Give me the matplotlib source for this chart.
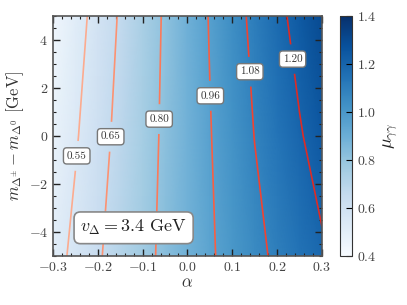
import numpy as np
import matplotlib
matplotlib.use('Agg')
import matplotlib.pyplot as plt
from matplotlib.ticker import MultipleLocator

plt.rcParams['font.family'] = 'serif'
plt.rcParams['font.serif'] = ['cmr10']
plt.rcParams['mathtext.fontset'] = 'cm'
plt.rcParams['axes.formatter.use_mathtext'] = True
plt.rcParams['axes.unicode_minus'] = True

# grid
alpha = [-0.30, -0.25, -0.20, -0.15, -0.10, -0.05, 0.00, 0.05, 0.10, 0.15, 0.20, 0.25, 0.30]
dm = [-5.0, 0.0, 5.0]
# mu_gamma_gamma along each dm row
mu_dm_m5 = [0.510, 0.574, 0.637, 0.701, 0.764, 0.826, 0.886, 0.946, 1.000, 1.052, 1.099, 1.142, 1.185]
mu_dm_0 = [0.471, 0.540, 0.610, 0.679, 0.750, 0.819, 0.887, 0.955, 1.019, 1.082, 1.137, 1.191, 1.246]
mu_dm_p5 = [0.436, 0.510, 0.585, 0.660, 0.736, 0.813, 0.890, 0.966, 1.037, 1.106, 1.171, 1.237, 1.302]
levels = [0.55, 0.65, 0.80, 0.96, 1.08, 1.20]

mu = np.array([mu_dm_m5, mu_dm_0, mu_dm_p5])
A, D = np.meshgrid(alpha, dm)

fig = plt.figure(figsize=(4.07, 3.05), dpi=100)
ax = fig.add_axes([0.130, 0.161, 0.661, 0.787])
cax = fig.add_axes([0.835, 0.161, 0.0295, 0.787])

pc = ax.pcolormesh(A, D, mu, cmap='Blues', vmin=0.4, vmax=1.4, shading='gouraud')

line_cols = plt.cm.Reds(np.linspace(0.3, 0.68, len(levels)))
cs = ax.contour(A, D, mu, levels=levels, colors=line_cols, linewidths=1.2)
lbl_pos = [(-0.249, -0.83), (-0.168, -0.04), (-0.066, 0.70),
           (0.052, 1.67), (0.137, 2.67), (0.235, 3.2)]
labels = ax.clabel(cs, levels, fmt='%.2f', fontsize=8, inline=True,
                   manual=lbl_pos, colors='#333333')
for t in labels:
    t.set_rotation(0)
    t.set_bbox(dict(boxstyle='round,pad=0.3', fc='white', ec='#777777', lw=1))

ax.set_xlim(-0.3, 0.3)
ax.set_ylim(-5, 5)
ax.set_xticks([-0.3, -0.2, -0.1, 0.0, 0.1, 0.2, 0.3])
ax.set_yticks([-4, -2, 0, 2, 4])
ax.xaxis.set_minor_locator(MultipleLocator(0.02))
ax.yaxis.set_minor_locator(MultipleLocator(0.5))
ax.tick_params(which='both', direction='in', top=True, right=True,
               labelsize=10, labelcolor='#444444', color='#222222')
ax.tick_params(which='major', length=5, width=1)
ax.tick_params(which='minor', length=2.5, width=0.8)
for s in ax.spines.values():
    s.set_color('#555555')
    s.set_linewidth(1.2)

ax.set_xlabel(r'$\alpha$', fontsize=12, color='#333333', labelpad=1)
ax.set_ylabel(r'$m_{\Delta^{\pm}} - m_{\Delta^{0}}$ [GeV]', fontsize=12,
              color='#333333', labelpad=2)

ax.text(0.30, 0.117, r'$v_{\Delta} = 3.4\ \mathrm{GeV}$', transform=ax.transAxes,
        fontsize=13, ha='center', va='center', color='#222222',
        bbox=dict(boxstyle='round,pad=0.35', fc='white', ec='#888888', lw=1.2))

cb = fig.colorbar(pc, cax=cax, ticks=[0.4, 0.6, 0.8, 1.0, 1.2, 1.4])
cb.ax.tick_params(direction='in', length=4, labelsize=10, labelcolor='#444444')
cb.outline.set_edgecolor('#333333')
cb.set_label(r'$\mu_{\gamma\gamma}$', fontsize=13, color='#222222', labelpad=4)

fig.savefig('out.png', dpi=100)
